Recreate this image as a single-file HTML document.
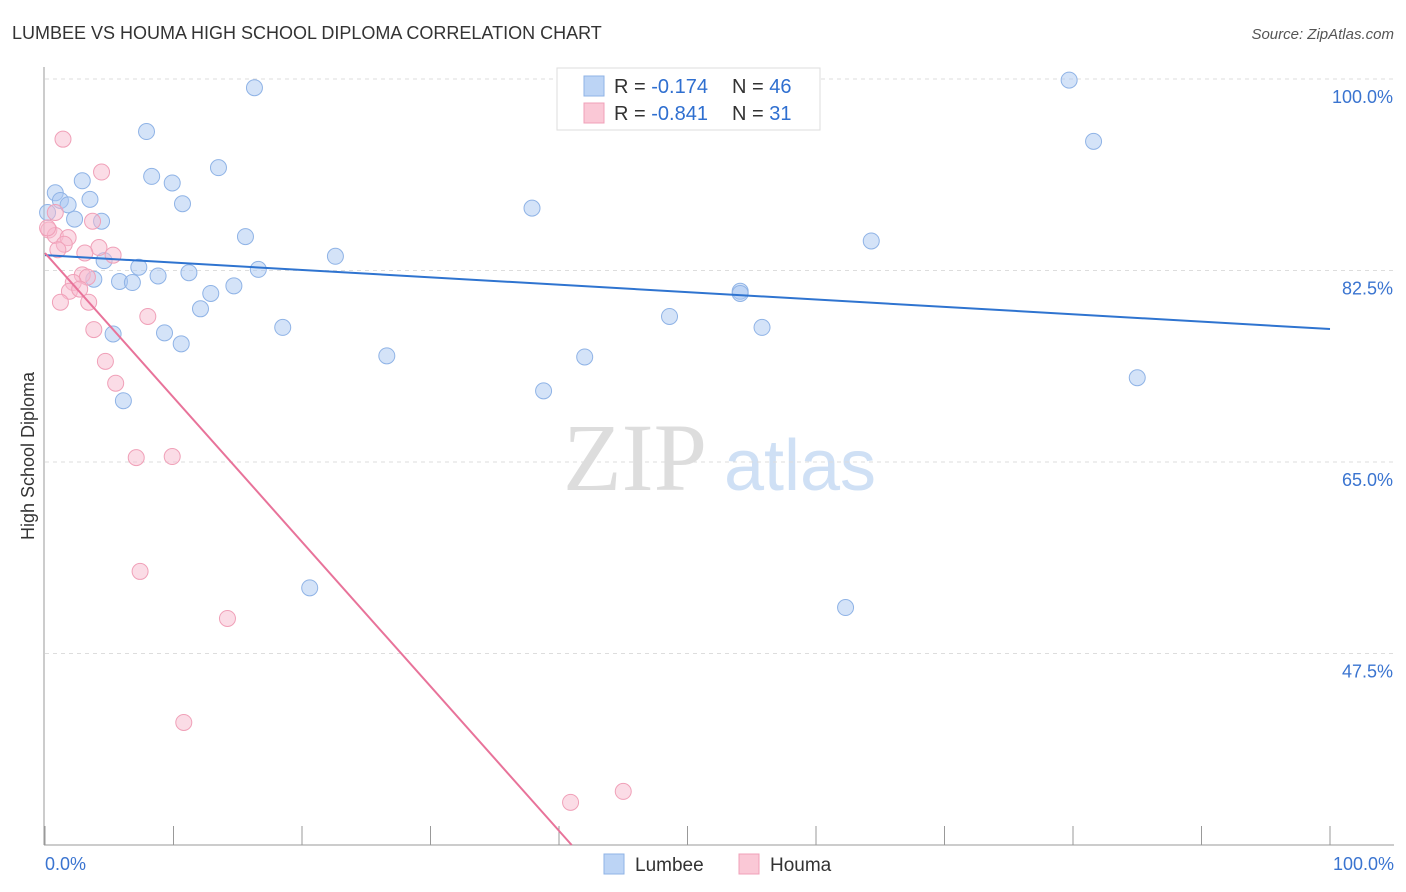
<!DOCTYPE html>
<html><head><meta charset="utf-8"><style>
body{margin:0;background:#fff;font-family:"Liberation Sans",sans-serif;}
svg{display:block}
</style></head><body>
<svg id="chart" width="1406" height="892">
<text x="12" y="39" font-size="18" fill="#333">LUMBEE VS HOUMA HIGH SCHOOL DIPLOMA CORRELATION CHART</text>
<text x="1394" y="39" font-size="15" fill="#555" text-anchor="end" font-style="italic">Source: ZipAtlas.com</text>
<text x="34" y="456" font-size="18" fill="#333" transform="rotate(-90 34 456)" text-anchor="middle">High School Diploma</text>
<g><text x="635" y="490" font-size="96" fill="#ddd" font-family="Liberation Serif,serif" text-anchor="middle">ZIP</text><text x="800" y="490" font-size="72" fill="#cfe0f5" text-anchor="middle">atlas</text></g>
<g id="grid"></g><g id="axes"></g><g id="marks"></g>
<g>
<rect x="557" y="68" width="263" height="62" fill="#fff" stroke="#ddd"/>
<rect x="584" y="76" width="20" height="20" fill="#bcd4f5" stroke="#8fb3e6"/>
<rect x="584" y="103" width="20" height="20" fill="#fac8d6" stroke="#f0a0b8"/>
<text x="614" y="93" font-size="20" fill="#333">R = <tspan fill="#2f6fd0">-0.174</tspan><tspan x="732">N = </tspan><tspan fill="#2f6fd0">46</tspan></text>
<text x="614" y="120" font-size="20" fill="#333">R = <tspan fill="#2f6fd0">-0.841</tspan><tspan x="732">N = </tspan><tspan fill="#2f6fd0"> 31</tspan></text>
</g>
<g>
<rect x="604" y="854" width="20" height="20" fill="#bcd4f5" stroke="#8fb3e6"/><text x="635" y="871" font-size="19" fill="#333">Lumbee</text>
<rect x="739" y="854" width="20" height="20" fill="#fac8d6" stroke="#f0a0b8"/><text x="770" y="871" font-size="19" fill="#333">Houma</text>
</g>
</svg>
<script>
const yTicks=[100,82.5,65,47.5];
const yTickLabels=["100.0%","82.5%","65.0%","47.5%"];
const xLabels=["0.0%","100.0%"];
const lumbeeX=[16.3,7.9,79.7,81.6,13.5,8.3,9.9,2.9,0.8,3.5,1.2,1.8,10.7,0.2,2.3,4.4,37.9,15.6,64.3,22.6,4.6,7.3,16.6,8.8,11.2,5.8,6.8,3.8,14.7,12.9,54.1,54.1,12.1,48.6,18.5,55.8,9.3,5.3,10.6,26.6,42.0,85.0,38.8,6.1,20.6,62.3];
const lumbeeY=[99.2,95.2,99.9,94.3,91.9,91.1,90.5,90.7,89.6,89.0,88.9,88.5,88.6,87.8,87.2,87.0,88.2,85.6,85.2,83.8,83.4,82.8,82.6,82.0,82.3,81.5,81.4,81.7,81.1,80.4,80.6,80.4,79.0,78.3,77.3,77.3,76.8,76.7,75.8,74.7,74.6,72.7,71.5,70.6,53.5,51.7];
const houmaX=[1.4,4.4,0.8,3.7,0.3,0.8,1.8,1.5,4.2,1.0,3.1,5.3,2.9,3.3,2.2,1.9,2.7,1.2,3.4,8.0,3.8,4.7,5.5,7.1,9.9,7.4,14.2,10.8,40.9,45.0,0.2];
const houmaY=[94.5,91.5,87.8,87.0,86.2,85.7,85.5,84.9,84.6,84.4,84.1,83.9,82.1,81.9,81.4,80.6,80.8,79.6,79.6,78.3,77.1,74.2,72.2,65.4,65.5,55.0,50.7,41.2,33.9,34.9,86.4];
const lumbeeTrend=[83.9,77.15];
const houmaTrend=[84.1,-1.32];
const NS="http://www.w3.org/2000/svg";
const sx=v=>45+v*12.85;
const sy=v=>79+(100-v)*10.943;
function mk(t,a,p){const e=document.createElementNS(NS,t);for(const k in a)e.setAttribute(k,a[k]);p.appendChild(e);return e;}
const grid=document.getElementById('grid'),axes=document.getElementById('axes'),marks=document.getElementById('marks');
yTicks.forEach((v,i)=>{
 const l=mk('line',{x1:45,x2:1394,y1:sy(v),y2:sy(v),stroke:'#ddd','stroke-dasharray':'4,4'},grid);
 
 
 const t=mk('text',{x:1393,y:sy(v)+24,'font-size':18,fill:'#3a74d0','text-anchor':'end'},grid);t.textContent=yTickLabels[i];
 
 
});
mk('line',{x1:44,x2:44,y1:67,y2:845,stroke:'#999'},axes);
mk('line',{x1:44,x2:1394,y1:845,y2:845,stroke:'#999'},axes);
for(let i=0;i<=10;i++){const tk=mk('line',{x1:sx(i*10),x2:sx(i*10),y1:826,y2:845,stroke:'#999'},axes);
 
 }
[[0,'start',45],[100,'end',1394]].forEach((d,i)=>{const t=mk('text',{x:d[2],y:870,'font-size':18,fill:'#3a74d0','text-anchor':d[1]},axes);t.textContent=xLabels[i];
 
 });
lumbeeX.forEach((x,i)=>{const c=mk('circle',{cx:sx(x),cy:sy(lumbeeY[i]),r:8,fill:'rgba(170,200,242,0.5)',stroke:'#8fb3e6','stroke-width':1},marks);
 
 });
houmaX.forEach((x,i)=>{const c=mk('circle',{cx:sx(x),cy:sy(houmaY[i]),r:8,fill:'rgba(248,185,205,0.5)',stroke:'#f0a0b8','stroke-width':1},marks);
 
 });
const bl=mk('line',{x1:sx(0),y1:sy(lumbeeTrend[0]),x2:sx(100),y2:sy(lumbeeTrend[1]),stroke:'#2f74d0','stroke-width':2},marks);


const xe=(30-houmaTrend[0])/houmaTrend[1];
const pl=mk('line',{x1:sx(0),y1:sy(houmaTrend[0]),x2:sx(xe),y2:sy(30),stroke:'#e8739a','stroke-width':2},marks);


</script>
</body></html>
